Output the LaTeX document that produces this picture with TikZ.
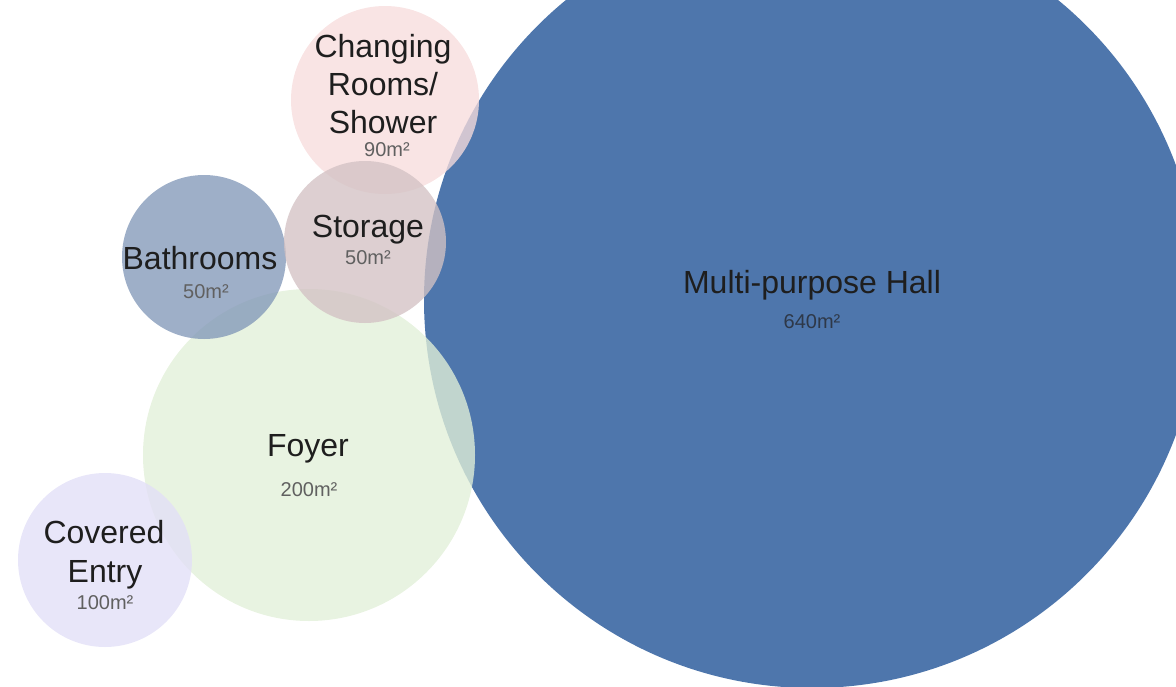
\documentclass[tikz,border=0pt]{standalone}
\usepackage{fontspec}
\setmainfont{Liberation Sans}
\definecolor{hallblue}{HTML}{4E76AC}
\definecolor{changepink}{HTML}{F7DCDC}
\definecolor{storagemauve}{HTML}{D3C2C4}
\definecolor{bathblue}{HTML}{7E94B6}
\definecolor{foyergreen}{HTML}{E2F0D8}
\definecolor{entrylilac}{HTML}{E2DFF7}
\definecolor{titletext}{HTML}{1E1E1E}
\definecolor{areatext}{HTML}{606060}
\definecolor{hallarea}{HTML}{2E3848}
\tikzset{
  room/.style={circle, draw=none, inner sep=0pt, minimum size=#1},
  soft/.style={fill opacity=0.78},
  title/.style={font=\fontsize{32}{39}\selectfont, text=titletext, inner sep=0pt, anchor=base},
  area/.style={font=\fontsize{20}{24}\selectfont, text=areatext, inner sep=0pt, anchor=base}
}
\begin{document}
\begin{tikzpicture}[x=1pt, y=-1pt]
  \useasboundingbox (0,0) rectangle (1176,686);
  % room bubbles, largest first
  \begin{scope}
    \clip (0,0) rectangle (1176,686);
    \node[room=776pt, fill=hallblue] (hall) at (812,300) {};
    \node[room=332pt, fill=foyergreen, soft] (foyer) at (309,455) {};
    \node[room=164pt, fill=bathblue, fill opacity=0.75] (bath) at (204,257) {};
    \node[room=188pt, fill=changepink, soft] (change) at (385,100) {};
    \node[room=162pt, fill=storagemauve, soft] (storage) at (365,242) {};
    \node[room=174pt, fill=entrylilac, soft] (entry) at (105,560) {};
  \end{scope}
  % labels
  \node[title] (hallT) at (812,293) {Multi-purpose Hall};
  \node[area, text=hallarea] (hallA) at (812,328) {640m²};
  \node[title] (changeT1) at (383,57) {Changing};
  \node[title] (changeT2) at (383,95) {Rooms/};
  \node[title] (changeT3) at (383,133) {Shower};
  \node[area] (changeA) at (387,156) {90m²};
  \node[title] (storageT) at (368,237) {Storage};
  \node[area] (storageA) at (368,264) {50m²};
  \node[title] (bathT) at (200,269) {Bathrooms};
  \node[area] (bathA) at (206,298) {50m²};
  \node[title] (foyerT) at (308,456) {Foyer};
  \node[area] (foyerA) at (309,496) {200m²};
  \node[title] (entryT1) at (104,543) {Covered};
  \node[title] (entryT2) at (105,582) {Entry};
  \node[area] (entryA) at (105,609) {100m²};
\end{tikzpicture}
\end{document}
